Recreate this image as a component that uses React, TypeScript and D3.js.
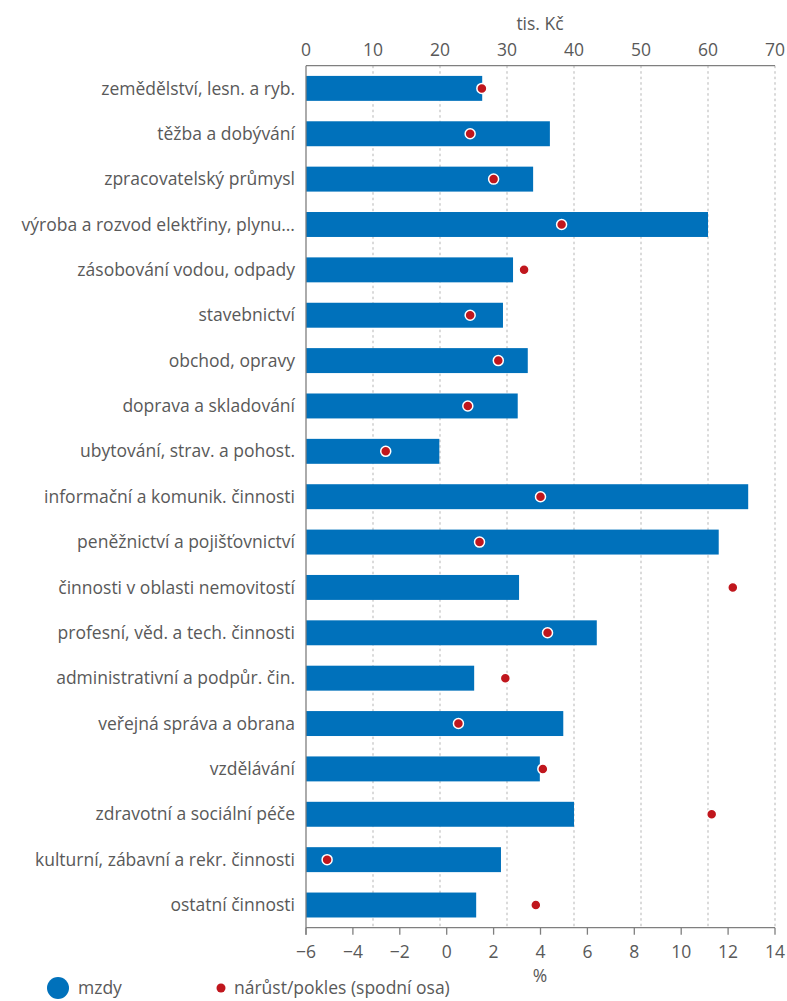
import React from "react";
import * as d3 from "d3";

const categories = [
  "zemědělství, lesn. a ryb.",
  "těžba a dobývání",
  "zpracovatelský průmysl",
  "výroba a rozvod elektřiny, plynu…",
  "zásobování vodou, odpady",
  "stavebnictví",
  "obchod, opravy",
  "doprava a skladování",
  "ubytování, strav. a pohost.",
  "informační a komunik. činnosti",
  "peněžnictví a pojišťovnictví",
  "činnosti v oblasti nemovitostí",
  "profesní, věd. a tech. činnosti",
  "administrativní a podpůr. čin.",
  "veřejná správa a obrana",
  "vzdělávání",
  "zdravotní a sociální péče",
  "kulturní, zábavní a rekr. činnosti",
  "ostatní činnosti",
];

const wages = [26.3, 36.4, 33.9, 60.0, 30.9, 29.4, 33.1, 31.6, 19.9, 66.0, 61.6, 31.8, 43.4, 25.1, 38.4, 34.9, 40.0, 29.1, 25.4];
const growth = [1.5, 1.0, 2.0, 4.9, 3.3, 1.0, 2.2, 0.9, -2.6, 4.0, 1.4, 12.2, 4.3, 2.5, 0.5, 4.1, 11.3, -5.1, 3.8];

const topTicks = [0, 10, 20, 30, 40, 50, 60, 70];
const bottomTicks = [-6, -4, -2, 0, 2, 4, 6, 8, 10, 12, 14];

const W = 787;
const H = 1001;
const left = 306;
const right = 775;
const top = 65.7;
const bottom = 927.7;

const BLUE = "#0071bb";
const RED = "#c0161d";
const TEXT = "#595959";
const AXIS = "#7f7f7f";
const FONT = "'Open Sans', sans-serif";
const FS = 17.5;

export default function App() {
  const xTop = d3.scaleLinear().domain([0, 70]).range([left, right]);
  const xBot = d3.scaleLinear().domain([-6, 14]).range([left, right]);
  const y = d3.scaleBand<string>().domain(categories).range([top, bottom]).paddingInner(0.45).paddingOuter(0.225);

  return (
    <svg width={W} height={H} style={{ position: "absolute", left: 0, top: 0 }} fontFamily={FONT}>
      {topTicks.slice(1).map((t) => (
        <line key={"g" + t} x1={xTop(t)} x2={xTop(t)} y1={top} y2={bottom} stroke="#b5b5b5" strokeWidth={1} strokeDasharray="2.5,3" />
      ))}
      {categories.map((c, i) => (
        <rect key={"b" + i} x={xTop(0)} y={y(c)} width={xTop(wages[i]) - xTop(0)} height={y.bandwidth()} fill={BLUE} />
      ))}
      {categories.map((c, i) => (
        <circle key={"d" + i} cx={xBot(growth[i])} cy={(y(c) as number) + y.bandwidth() / 2} r={5} fill={RED} stroke="#fff" strokeWidth={1.5} />
      ))}
      <line x1={left} x2={right} y1={top} y2={top} stroke={AXIS} strokeWidth={1.3} />
      {topTicks.map((t) => (
        <text key={"tt" + t} x={xTop(t)} y={56} textAnchor="middle" fontSize={FS} fill={TEXT}>{t}</text>
      ))}
      <text x={540} y={30} textAnchor="middle" fontSize={FS} fill={TEXT}>tis. Kč</text>
      <line x1={left} x2={left} y1={top} y2={bottom + 7} stroke={AXIS} strokeWidth={1.3} />
      {categories.map((c, i) => (
        <text key={"l" + i} x={295} y={(y(c) as number) + y.bandwidth() / 2} dy="0.35em" textAnchor="end" fontSize={FS} fill={TEXT}>{c}</text>
      ))}
      <line x1={left} x2={right} y1={bottom} y2={bottom} stroke={AXIS} strokeWidth={1.3} />
      {bottomTicks.map((t) => (
        <g key={"bt" + t}>
          <line x1={xBot(t)} x2={xBot(t)} y1={bottom} y2={bottom + 7} stroke={AXIS} strokeWidth={1.3} />
          <text x={xBot(t)} y={958} textAnchor="middle" fontSize={FS} fill={TEXT}>{t < 0 ? "\u2212" + Math.abs(t) : String(t)}</text>
        </g>
      ))}
      <text x={540} y={982} textAnchor="middle" fontSize={FS} fill={TEXT}>%</text>
      <circle cx={58} cy={988} r={11} fill={BLUE} />
      <text x={78} y={988} dy="0.35em" fontSize={FS} fill={TEXT}>mzdy</text>
      <circle cx={221} cy={988} r={4.5} fill={RED} />
      <text x={234} y={988} dy="0.35em" fontSize={FS} fill={TEXT}>nárůst/pokles (spodní osa)</text>
    </svg>
  );
}
